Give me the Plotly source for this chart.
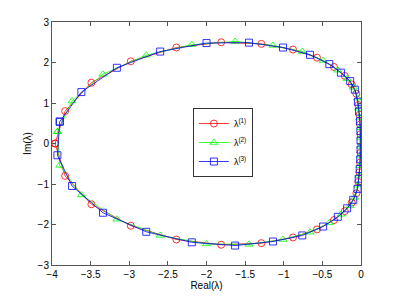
import plotly.graph_objects as go

# λ(1): closed loop around the curve
red_re = [-3.96, -3.83, -3.49, -2.98, -2.39, -1.81, -1.29, -0.88, -0.57, -0.35, -0.21, -0.12, -0.06, -0.035, -0.02, -0.012, -0.007,
          -0.007, -0.012, -0.02, -0.035, -0.06, -0.12, -0.21, -0.35, -0.57, -0.88, -1.29, -1.81, -2.39, -2.98, -3.49, -3.83, -3.96]
red_im = [0.00, 0.80, 1.50, 2.03, 2.37, 2.50, 2.46, 2.32, 2.12, 1.89, 1.67, 1.46, 1.23, 0.95, 0.71, 0.47, 0.23,
          -0.23, -0.47, -0.71, -0.95, -1.23, -1.46, -1.67, -1.89, -2.12, -2.32, -2.46, -2.50, -2.37, -2.03, -1.50, -0.80, 0.00]

# λ(2)
green_re = [-3.93, -3.74, -3.34, -2.78, -2.19, -1.63, -1.14, -0.76, -0.49, -0.30, -0.18, -0.10, -0.045, -0.03, -0.017, -0.01, -0.006,
            -0.006, -0.008, -0.014, -0.025, -0.04, -0.08, -0.14, -0.26, -0.41, -0.66, -1.01, -1.45, -2.00, -2.60, -3.16, -3.62, -3.90, -3.93]
green_im = [0.29, 1.05, 1.71, 2.18, 2.44, 2.52, 2.42, 2.27, 2.05, 1.81, 1.60, 1.39, 1.12, 0.87, 0.63, 0.39, 0.15,
            -0.07, -0.31, -0.55, -0.79, -1.03, -1.33, -1.54, -1.75, -1.96, -2.19, -2.37, -2.49, -2.48, -2.27, -1.87, -1.27, -0.54, 0.29]

# λ(3)
blue_re = [-3.90, -3.62, -3.16, -2.60, -2.00, -1.45, -1.01, -0.66, -0.41, -0.26, -0.14, -0.08, -0.04, -0.025, -0.014, -0.008, -0.006,
           -0.006, -0.01, -0.017, -0.03, -0.045, -0.10, -0.18, -0.30, -0.49, -0.76, -1.14, -1.63, -2.19, -2.78, -3.34, -3.74, -3.93, -3.90]
blue_im = [0.54, 1.27, 1.87, 2.27, 2.48, 2.49, 2.37, 2.19, 1.96, 1.75, 1.54, 1.33, 1.03, 0.79, 0.55, 0.31, 0.07,
           -0.15, -0.39, -0.63, -0.87, -1.12, -1.39, -1.60, -1.81, -2.05, -2.27, -2.42, -2.52, -2.44, -2.18, -1.71, -1.05, -0.29, 0.54]

series = [
    ("λ<sup>(1)</sup>", red_re, red_im, "#ff0000", "circle-open"),
    ("λ<sup>(2)</sup>", green_re, green_im, "#00ff00", "triangle-up-open"),
    ("λ<sup>(3)</sup>", blue_re, blue_im, "#0000ff", "square-open"),
]

x_ticks = [-4, -3.5, -3, -2.5, -2, -1.5, -1, -0.5, 0]
x_labels = ["−4", "−3.5", "−3", "−2.5", "−2", "−1.5", "−1", "−0.5", "0"]
y_ticks = [-3, -2, -1, 0, 1, 2, 3]
y_labels = ["−3", "−2", "−1", "0", "1", "2", "3"]

fig = go.Figure()
for name, xr, yi, col, sym in series:
    fig.add_trace(go.Scatter(
        x=xr, y=yi, mode="lines+markers", name=name,
        line=dict(color=col, width=0.8),
        marker=dict(symbol=sym, size=7, color=col, line=dict(width=0.8, color=col)),
    ))

axis_common = dict(
    showline=True, linecolor="#555555", linewidth=1, mirror="allticks",
    ticks="inside", ticklen=4, tickcolor="#555555", showgrid=False, zeroline=False,
    automargin=False,
    tickfont=dict(family="Liberation Sans, Arial", size=10, color="black"),
)

fig.update_layout(
    width=399, height=298,
    margin=dict(l=52, r=38, t=22, b=33),
    paper_bgcolor="white", plot_bgcolor="white",
    font=dict(family="Liberation Sans, Arial", size=10, color="black"),
    xaxis=dict(range=[-4, 0], tickvals=x_ticks, ticktext=x_labels,
               title=dict(text="Real(λ)", standoff=2, font=dict(size=10)), **axis_common),
    yaxis=dict(range=[-3, 3], tickvals=y_ticks, ticktext=y_labels,
               title=dict(text="Im(λ)", standoff=4, font=dict(size=10)), **axis_common),
    legend=dict(x=0.456, y=0.646, xanchor="left", yanchor="top",
                bordercolor="#333333", borderwidth=1, bgcolor="white",
                font=dict(size=9), tracegroupgap=0),
    showlegend=True,
)

fig.write_html("out.html", config={"displayModeBar": False},
               post_script="document.body.style.margin='0';document.body.style.padding='0';")
